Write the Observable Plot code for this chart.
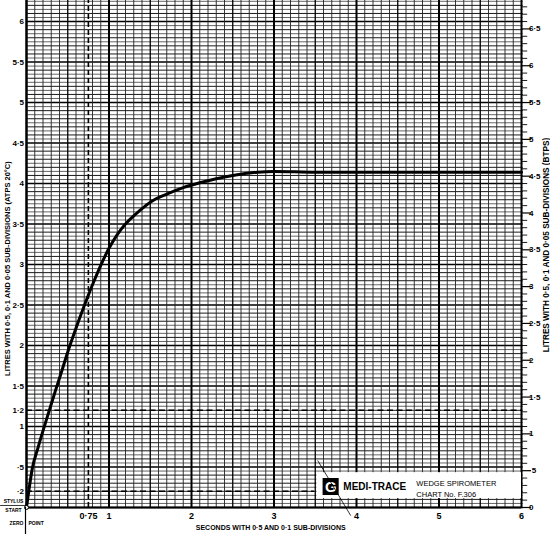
<!DOCTYPE html>
<html><head><meta charset="utf-8">
<script src="https://cdn.jsdelivr.net/npm/d3@7"></script>
<script src="https://cdn.jsdelivr.net/npm/@observablehq/plot@0.6"></script>
<style>body{margin:0;background:#fff}svg{display:block}</style>
</head><body><div id="chart"></div>
<script>
// ---- data ----
const seconds = [0,0.03,0.07,0.14,0.21,0.28,0.35,0.42,0.50,0.56,0.63,0.70,0.80,0.90,1.00,1.10,1.20,1.30,1.40,1.50,1.70,1.90,2.10,2.30,2.50,2.80,3.00,3.50,4.00,4.50,5.00,5.50,6.00];
const litres  = [0,0.22,0.48,0.74,0.98,1.21,1.44,1.66,1.92,2.10,2.30,2.49,2.75,2.99,3.20,3.37,3.50,3.60,3.69,3.77,3.87,3.95,4.01,4.06,4.10,4.14,4.15,4.14,4.14,4.14,4.14,4.14,4.14];

// ---- tick labels ----
const xTickValues = [0.75,1,2,3,4,5,6];
const xTickLabels = ["0·75","1","2","3","4","5","6"];
const leftTickValues = [6,5.5,5,4.5,4,3.5,3,2.5,2,1.5,1.2,1,0.5,0.2];
const leftTickLabels = ["6","5·5","5","4·5","4","3·5","3","2·5","2","1·5","1·2","1","·5","·2"];
const rightTickValues = [6.5,6,5.5,5,4.5,4,3.5,3,2.5,2,1.5,1,0.5,0];
const rightTickLabels = ["6·5","6","5·5","5","4·5","4","3·5","3","2·5","2","1·5","1","·5","0"];
const btpsFactor = 1.1;
const dashedLitres = [1.2, 0.2];
const dashedLitresEnd = [6, 3.49];
const dashedSeconds = [0.75];

// ---- annotation texts ----
const leftTitle = "LITRES WITH 0·5, 0·1 AND 0·05 SUB-DIVISIONS (ATPS 20°C)";
const rightTitle = "LITRES WITH 0·5, 0·1 AND 0·05 SUB-DIVISIONS (BTPS)";
const bottomTitle = "SECONDS WITH 0·5 AND 0·1 SUB-DIVISIONS";

const yTop = 6.26, xRight = 6;
const curve = seconds.map((s,i)=>({s, l: litres[i]}));

// grid lines
const hAll = d3.range(0, 126).map(i => ({i, v: +(i*0.05).toFixed(2)}));
const hMinor = hAll.filter(d => d.i % 2 === 1).map(d=>d.v);
const hMid = hAll.filter(d => d.i % 2 === 0 && d.i % 10 !== 0).map(d=>d.v);
const hMajor = hAll.filter(d => d.i % 10 === 0).map(d=>d.v);
const vAll = d3.range(0, 61).map(i => ({i, v: +(i*0.1).toFixed(1)}));
const vMinor = vAll.filter(d => d.i % 5 !== 0).map(d=>d.v);
const vHalf = vAll.filter(d => d.i % 5 === 0 && d.i % 10 !== 0).map(d=>d.v);
const vWhole = vAll.filter(d => d.i % 10 === 0).map(d=>d.v);
const rAll = d3.range(0, 69).map(i => ({i, v: +(i*0.1).toFixed(1)}));
const rMinor = rAll.filter(d => d.i % 5 !== 0).map(d=>d.v/btpsFactor);
const rMajor = rAll.filter(d => d.i % 5 === 0).map(d=>d.v/btpsFactor);

const font = "'Liberation Sans', Arial, sans-serif";

const chart = Plot.plot({
  width: 550, height: 534,
  marginLeft: 26, marginRight: 29, marginTop: 0, marginBottom: 27,
  x: {domain: [0, xRight], axis: null},
  y: {domain: [0, yTop], axis: null},
  style: {background: "white", fontFamily: font, color: "black"},
  marks: [
    Plot.ruleY(hMinor, {y: d=>d, x1: 0, x2: 6.02, stroke: "#555", strokeWidth: 0.9}),
    Plot.ruleY(hMid, {y: d=>d, x1: 0, x2: 6.02, stroke: "#1a1a1a", strokeWidth: 1}),
    Plot.ruleY(hMajor, {y: d=>d, x1: 0, x2: 6.02, stroke: "#000", strokeWidth: 1.4}),
    Plot.ruleX(vMinor, {x: d=>d, y1: 0, y2: yTop, stroke: "#222", strokeWidth: 0.9}),
    Plot.ruleX(vHalf, {x: d=>d, y1: 0, y2: yTop, stroke: "#000", strokeWidth: 1.3}),
    Plot.ruleX(vWhole, {x: d=>d, y1: 0, y2: yTop, stroke: "#000", strokeWidth: 2}),
    // dashed reference lines
    Plot.ruleY(dashedLitres, {y: d=>d, x1: 0, x2: (d,i)=>dashedLitresEnd[i], stroke: "#000", strokeWidth: 1.6, strokeDasharray: "6,3.5"}),
    Plot.ruleX(dashedSeconds, {x: d=>d, y1: 0, y2: yTop, stroke: "#000", strokeWidth: 1.6, strokeDasharray: "5,3"}),
    // label box
    Plot.rect([{x1: 3.52, x2: 6, y1: 0.11, y2: 0.43}], {x1: "x1", x2: "x2", y1: "y1", y2: "y2", fill: "white"}),
    Plot.rect([{x1: 3.595, x2: 3.79, y1: 0.148, y2: 0.358}], {x1: "x1", x2: "x2", y1: "y1", y2: "y2", fill: "black"}),
    Plot.text(["G"], {x: 3.69, y: 0.253, text: d=>d, fill: "white", fontSize: 15, fontWeight: "bold"}),
    Plot.text(["MEDI-TRACE"], {x: 3.84, y: 0.25, text: d=>d, textAnchor: "start", fontSize: 10, fontWeight: "bold"}),
    Plot.text(["WEDGE SPIROMETER"], {x: 4.725, y: 0.297, text: d=>d, textAnchor: "start", fontSize: 7.5}),
    Plot.text(["CHART No. F.306"], {x: 4.725, y: 0.16, text: d=>d, textAnchor: "start", fontSize: 7.5}),
    // pointer stroke
    Plot.link([{x1: 3.53, y1: 0.58, x2: 3.93, y2: -0.1}], {x1: "x1", y1: "y1", x2: "x2", y2: "y2", stroke: "#000", strokeWidth: 0.8}),
    // frame lines
    Plot.ruleX([0], {y1: 0, y2: yTop, stroke: "#000", strokeWidth: 2}),
    Plot.ruleY([0], {x1: 0, x2: 6, stroke: "#000", strokeWidth: 1.8}),
    // right BTPS ticks
    Plot.ruleY(rMinor, {y: d=>d, x1: 6, x2: 6.075, stroke: "#000", strokeWidth: 0.9}),
    Plot.ruleY(rMajor, {y: d=>d, x1: 6, x2: 6.12, stroke: "#000", strokeWidth: 1.2}),
    // trace
    Plot.line(curve, {x: "s", y: "l", curve: "monotone-x", stroke: "#000", strokeWidth: 3}),
    Plot.dot([0], {x: d=>d, y: 0, r: 2, fill: "white", stroke: "#000", strokeWidth: 1}),
    // tick labels
    Plot.text(leftTickValues, {x: 0, y: d=>d, text: (d,i)=>leftTickLabels[i], textAnchor: "end", dx: -2.5, fontSize: 8, fontWeight: "bold"}),
    Plot.text(rightTickValues, {x: 6, y: d=>d/btpsFactor, text: (d,i)=>rightTickLabels[i], textAnchor: "start", dx: 7.5, fontSize: 8, fontWeight: "bold"}),
    Plot.text(xTickValues, {x: d=>d, y: 0, text: (d,i)=>xTickLabels[i], dy: 9, fontSize: 9, fontWeight: "bold"}),
    // stylus start / zero point
    Plot.text(["STYLUS"], {x: 0, y: 0, text: d=>d, dx: -13, dy: -6, fontSize: 5, fontWeight: "bold"}),
    Plot.text(["START"], {x: 0, y: 0, text: d=>d, dx: -13, dy: 3, fontSize: 5, fontWeight: "bold"}),
    Plot.link([{x1: -0.32, x2: 0, y: 0.025}], {x1: "x1", x2: "x2", y1: "y", y2: "y", stroke: "#000", strokeWidth: 0.8}),
    Plot.ruleX([0], {x: d=>d, y1: 0, y2: -0.34, dx: -1, stroke: "#000", strokeWidth: 1.2}),
    Plot.text(["ZERO"], {x: 0, y: 0, text: d=>d, dx: -3, dy: 16, textAnchor: "end", fontSize: 5, fontWeight: "bold"}),
    Plot.text(["POINT"], {x: 0, y: 0, text: d=>d, dx: 2, dy: 16, textAnchor: "start", fontSize: 5, fontWeight: "bold"}),
    // axis titles
    Plot.text([leftTitle], {x: 0, y: 2.95, text: d=>d, rotate: -90, dx: -19, fontSize: 7.5, fontWeight: "bold"}),
    Plot.text([rightTitle], {x: 6, y: 3.24, text: d=>d, rotate: -90, dx: 24.5, fontSize: 8.2, fontWeight: "bold"}),
    Plot.text([bottomTitle], {x: 2.96, y: 0, text: d=>d, dy: 20, fontSize: 7, fontWeight: "bold"})
  ]
});
document.getElementById("chart").appendChild(chart);
</script>
</body></html>
